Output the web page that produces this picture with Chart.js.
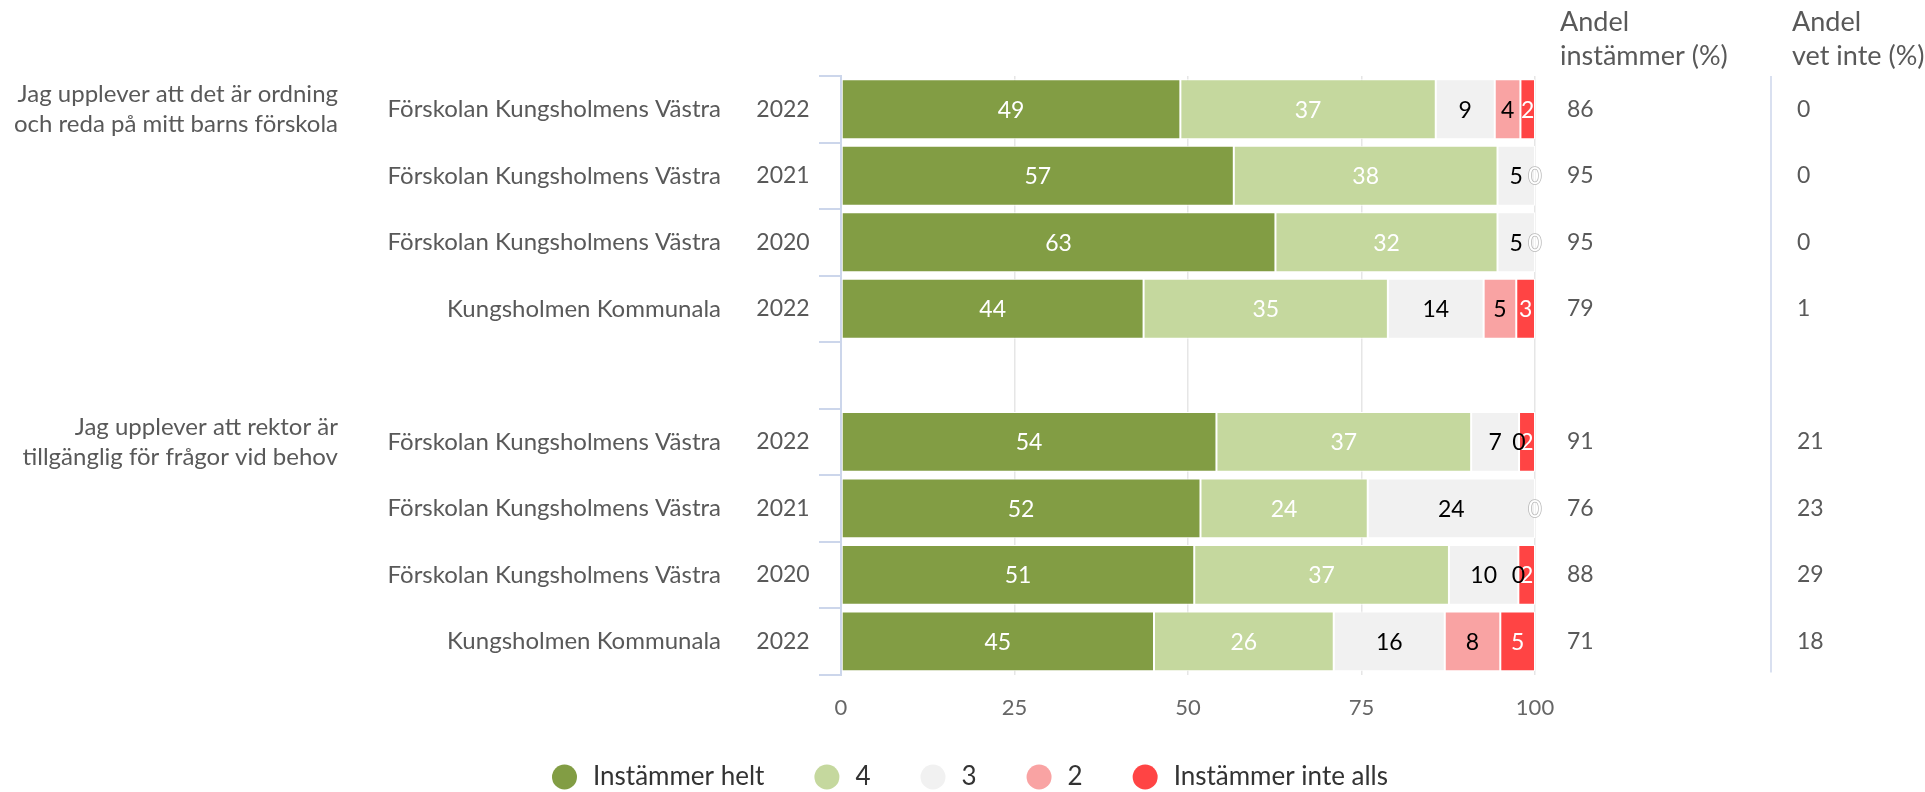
<!DOCTYPE html>
<html>
<head>
<meta charset="utf-8">
<script src="https://cdn.jsdelivr.net/npm/chart.js@4.4.1/dist/chart.umd.min.js"></script>
<style>
  html, body { margin: 0; padding: 0; background: #fff; }
  #wrap { position: relative; width: 1925px; height: 792px; }
</style>
</head>
<body>
<div id="wrap"><canvas id="surveyChart"></canvas></div>
<script>
// Rows (the empty row is the gap between the two questions)
const schools = [
  'Förskolan Kungsholmens Västra', 'Förskolan Kungsholmens Västra', 'Förskolan Kungsholmens Västra', 'Kungsholmen Kommunala',
  '',
  'Förskolan Kungsholmens Västra', 'Förskolan Kungsholmens Västra', 'Förskolan Kungsholmens Västra', 'Kungsholmen Kommunala'
];
const years = ['2022', '2021', '2020', '2022', '', '2022', '2021', '2020', '2022'];

const questions = [
  ['Jag upplever att det är ordning', 'och reda på mitt barns förskola'],
  ['Jag upplever att rektor är', 'tillgänglig för frågor vid behov']
];
const questionRows = [0, 5];

// Answer shares (%)
const helt     = [48.9, 56.6, 62.6, 43.6, null, 54.1, 51.8, 50.9, 45.1];
const fyra     = [36.8, 38.0, 32.0, 35.2, null, 36.7, 24.1, 36.7, 25.9];
const tre      = [8.5, 5.4, 5.4, 13.8, null, 6.9, 24.1, 10.0, 16.0];
const tva      = [3.7, 0, 0, 4.7, null, 0, 0, 0, 8.0];
const inteAlls = [2.1, 0, 0, 2.7, null, 2.3, 0, 2.4, 5.0];

const andelInstammer = [86, 95, 95, 79, null, 91, 76, 88, 71];
const andelVetInte   = [0, 0, 0, 1, null, 21, 23, 29, 18];

const seriesNames = ['Instämmer helt', '4', '3', '2', 'Instämmer inte alls'];
const xTicks = [0, 25, 50, 75, 100];

const FONT = 'Lato, "Noto Sans", sans-serif';
const TEXT = '#595959';
const colors = ['#829d44', '#c5d89e', '#f1f1f1', '#f9a3a3', '#ff4444'];
const labelColors = ['#ffffff', '#ffffff', '#000000', '#000000', '#ffffff'];

// data labels inside the bars
const barLabels = {
  id: 'barLabels',
  afterDatasetsDraw(chart) {
    const ctx = chart.ctx;
    const drawn = new Set();
    ctx.save();
    ctx.font = '23px ' + FONT;
    ctx.textAlign = 'center';
    ctx.textBaseline = 'middle';
    for (let d = chart.data.datasets.length - 1; d >= 0; d--) {
      const meta = chart.getDatasetMeta(d);
      meta.data.forEach((bar, i) => {
        const v = chart.data.datasets[d].data[i];
        if (v === null || v === undefined) return;
        const cx = (bar.x + bar.base) / 2;
        const key = i + ':' + Math.round(cx);
        if (drawn.has(key)) return;
        drawn.add(key);
        const txt = String(Math.round(v));
        if (v === 0 && labelColors[d] === '#ffffff') {
          ctx.lineWidth = 1.5;
          ctx.strokeStyle = '#b8b8b8';
          ctx.strokeText(txt, cx, bar.y + 1);
        }
        ctx.fillStyle = labelColors[d];
        ctx.fillText(txt, cx, bar.y + 1);
      });
    }
    ctx.restore();
  }
};

// row labels, question texts, the two share columns and the legend
const sideText = {
  id: 'sideText',
  afterDraw(chart) {
    const ctx = chart.ctx;
    const y = chart.scales.y;
    const area = chart.chartArea;
    ctx.save();
    ctx.textBaseline = 'middle';
    ctx.fillStyle = TEXT;

    schools.forEach((s, i) => {
      const py = y.getPixelForValue(i);
      ctx.font = '24px ' + FONT;
      ctx.textAlign = 'right';
      ctx.fillText(s, 721, py);
      ctx.font = '23px ' + FONT;
      ctx.textAlign = 'center';
      ctx.fillText(years[i], 783, py);
      ctx.textAlign = 'left';
      if (andelInstammer[i] !== null) ctx.fillText(String(andelInstammer[i]), 1567, py);
      if (andelVetInte[i] !== null) ctx.fillText(String(andelVetInte[i]), 1797, py);
    });

    ctx.font = '24px ' + FONT;
    ctx.textAlign = 'right';
    questions.forEach((lines, q) => {
      const py = y.getPixelForValue(questionRows[q]);
      ctx.fillText(lines[0], 338, py - 15);
      ctx.fillText(lines[1], 338, py + 15);
    });

    ctx.font = '27px ' + FONT;
    ctx.textAlign = 'left';
    ctx.fillText('Andel', 1560, 22);
    ctx.fillText('instämmer (%)', 1560, 56);
    ctx.fillText('Andel', 1792, 22);
    ctx.fillText('vet inte (%)', 1792, 56);

    ctx.strokeStyle = '#ccd6eb';
    ctx.lineWidth = 1.5;
    ctx.beginPath();
    ctx.moveTo(1771, area.top);
    ctx.lineTo(1771, area.bottom - 2);
    ctx.stroke();

    // legend
    ctx.font = '26px ' + FONT;
    let lx = 552;
    const ly = 777;
    chart.data.datasets.forEach(ds => {
      ctx.beginPath();
      ctx.fillStyle = ds.backgroundColor;
      ctx.arc(lx + 12.5, ly, 12.5, 0, Math.PI * 2);
      ctx.fill();
      ctx.fillStyle = '#333333';
      ctx.fillText(ds.label, lx + 41, ly);
      lx += 41 + ctx.measureText(ds.label).width + 50;
    });
    ctx.restore();
  }
};

const series = [helt, fyra, tre, tva, inteAlls];

new Chart(document.getElementById('surveyChart'), {
  type: 'bar',
  data: {
    labels: schools.map((s, i) => s + ' ' + years[i]),
    datasets: series.map((data, k) => ({
      label: seriesNames[k],
      data,
      backgroundColor: colors[k],
      borderColor: '#ffffff',
      borderWidth: 1,
      borderSkipped: false,
      barPercentage: 0.9,
      categoryPercentage: 1
    }))
  },
  options: {
    indexAxis: 'y',
    responsive: true,
    maintainAspectRatio: false,
    animation: false,
    layout: { padding: { top: 76, bottom: 51, left: 0, right: 0 } },
    scales: {
      x: {
        stacked: true,
        min: 0,
        max: 100,
        afterBuildTicks(scale) { scale.ticks = xTicks.map(v => ({ value: v })); },
        grid: { color: '#e6e6e6', lineWidth: 1.5, drawTicks: false },
        border: { display: false },
        ticks: { color: '#666666', padding: 20, font: { family: FONT, size: 22 } }
      },
      y: {
        stacked: true,
        position: 'left',
        grid: { drawOnChartArea: false, drawTicks: true, tickLength: 22, color: '#ccd6eb', lineWidth: 2, offset: true },
        border: { display: true, color: '#ccd6eb', width: 2 },
        ticks: { display: false },
        afterFit(scale) { scale.width = 841; }
      },
      yRight: {
        type: 'category',
        position: 'right',
        grid: { display: false },
        border: { display: false },
        ticks: { display: false },
        afterFit(scale) { scale.width = 390; }
      }
    },
    plugins: {
      legend: { display: false },
      tooltip: { enabled: false }
    }
  },
  plugins: [barLabels, sideText]
});
</script>
</body>
</html>
